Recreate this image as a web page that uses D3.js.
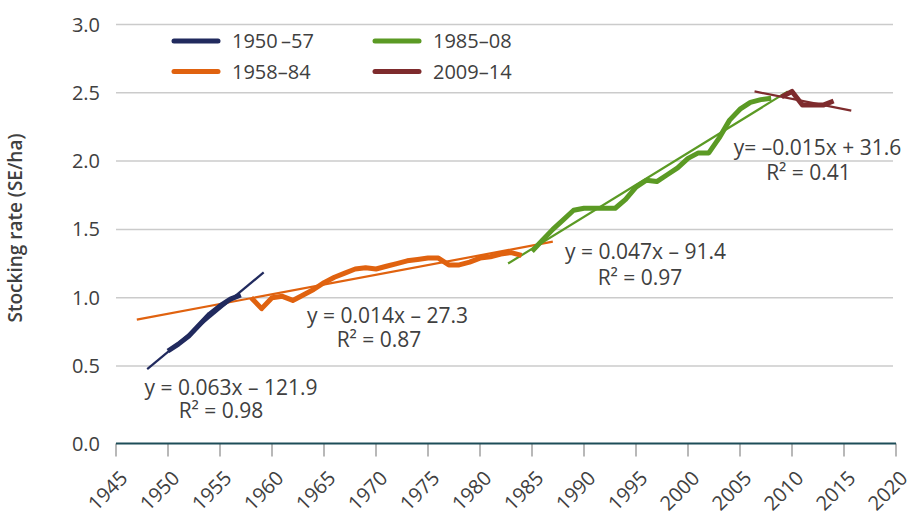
<!DOCTYPE html>
<html>
<head>
<meta charset="utf-8">
<script src="https://cdn.jsdelivr.net/npm/d3@7"></script>
<style>
  body { margin: 0; background: #fff; }
  svg { font-family: "Open Sans", sans-serif; }
</style>
</head>
<body>
<div id="chart"></div>
<script>
// period series (stocking rate, SE/ha)
const years1 = [1950, 1951, 1952, 1953, 1954, 1955, 1956, 1957];
const vals1 = [0.61, 0.66, 0.72, 0.80, 0.88, 0.94, 0.99, 1.02];

const years2 = d3.range(1958, 1985);
const vals2 = [1.00, 0.92, 1.00, 1.01, 0.98, 1.02, 1.06, 1.11, 1.15, 1.18,
               1.21, 1.22, 1.21, 1.23, 1.25, 1.27, 1.28, 1.29, 1.29, 1.24,
               1.24, 1.26, 1.29, 1.30, 1.32, 1.33, 1.31];

const years3 = d3.range(1985, 2009);
const vals3 = [1.34, 1.42, 1.50, 1.57, 1.64, 1.655, 1.655, 1.655, 1.655, 1.72,
               1.81, 1.86, 1.85, 1.90, 1.95, 2.02, 2.06, 2.06, 2.17, 2.30,
               2.38, 2.43, 2.45, 2.46];

const years4 = [2009, 2010, 2011, 2012, 2013, 2014];
const vals4 = [2.47, 2.51, 2.41, 2.41, 2.41, 2.44];

// fitted trend lines, [year, value] endpoints
const trend1 = [[1948, 0.48], [1959.2, 1.185]];
const trend2 = [[1947, 0.84], [1987, 1.41]];
const trend3 = [[1982.7, 1.25], [2009.6, 2.51]];
const trend4 = [[2006.4, 2.51], [2015.7, 2.37]];

const seriesNames = ["1950\u2009\u201357", "1958\u201384", "1985\u201308", "2009\u201314"];
const equations = ["y = 0.063x \u2013 121.9", "y = 0.014x \u2013 27.3", "y = 0.047x \u2013 91.4", "y= \u20130.015x + 31.6"];
const rSquared = ["R\u00b2 = 0.98", "R\u00b2 = 0.87", "R\u00b2 = 0.97", "R\u00b2 = 0.41"];

const yTicks = [0, 0.5, 1, 1.5, 2, 2.5, 3];
const xTicks = d3.range(1945, 2021, 5);

const colors = ["#212a5e", "#e0620f", "#5b9a24", "#7e2b2d"];

const width = 908, height = 515;

const svg = d3.select("#chart").append("svg")
    .attr("width", width)
    .attr("height", height);

const x = d3.scaleLinear().domain([1945, 2020]).range([116, 896]);
// the zero baseline sits a little lower than the even spacing of the other ticks
const y = d3.scaleLinear().domain([0, 0.5, 3]).range([443.5, 366, 24.5]);

// gridlines
svg.append("g")
  .selectAll("line")
  .data(yTicks.filter(d => d > 0))
  .join("line")
    .attr("x1", x(1945))
    .attr("x2", 893)
    .attr("y1", d => y(d))
    .attr("y2", d => y(d))
    .attr("stroke", "#cbcbcb")
    .attr("stroke-width", 1.5);

// y labels
svg.append("g")
    .attr("font-size", 20)
    .attr("fill", "#404040")
    .attr("text-anchor", "end")
  .selectAll("text")
  .data(yTicks)
  .join("text")
    .attr("x", 100)
    .attr("y", d => y(d))
    .attr("dy", "0.35em")
    .text(d => d.toFixed(1));

// y title
svg.append("text")
    .attr("transform", "translate(22,228) rotate(-90)")
    .attr("text-anchor", "middle")
    .attr("font-size", 19)
    .attr("font-weight", 600)
    .attr("fill", "#404040")
    .text("Stocking rate (SE/ha)");

// x axis ticks
svg.append("g")
  .selectAll("line")
  .data(xTicks)
  .join("line")
    .attr("x1", d => x(d))
    .attr("x2", d => x(d))
    .attr("y1", y(0))
    .attr("y2", y(0) + 13)
    .attr("stroke", "#a0a0a0")
    .attr("stroke-width", 1.5);

svg.append("line")
    .attr("x1", x(1945))
    .attr("x2", x(2020))
    .attr("y1", y(0))
    .attr("y2", y(0))
    .attr("stroke", "#1d4d58")
    .attr("stroke-width", 2);

svg.append("g")
    .attr("font-size", 20)
    .attr("fill", "#404040")
    .attr("text-anchor", "end")
  .selectAll("text")
  .data(xTicks)
  .join("text")
    .attr("transform", d => `translate(${x(d) + 8},${y(0) + 31}) rotate(-45)`)
    .attr("dy", "0.35em")
    .text(d => d);

const line = d3.line()
    .x(d => x(d[0]))
    .y(d => y(d[1]));

const series = [
  d3.zip(years1, vals1),
  d3.zip(years2, vals2),
  d3.zip(years3, vals3),
  d3.zip(years4, vals4)
];
const trends = [trend1, trend2, trend3, trend4];

// trend lines
svg.append("g")
    .attr("fill", "none")
    .attr("stroke-width", 2.2)
  .selectAll("path")
  .data(trends)
  .join("path")
    .attr("stroke", (d, i) => colors[i])
    .attr("d", line);

// data lines
svg.append("g")
    .attr("fill", "none")
    .attr("stroke-width", 5)
    .attr("stroke-linejoin", "round")
  .selectAll("path")
  .data(series)
  .join("path")
    .attr("stroke", (d, i) => colors[i])
    .attr("d", line);

// regression labels (pixel centres of equation and R² lines)
const eqPos = [[231, 388, 221, 410.5], [387.5, 315.5, 379, 340], [645.5, 251.5, 640, 278], [817.5, 147.5, 808.5, 173]];
const ann = svg.append("g")
    .attr("font-size", 21)
    .attr("fill", "#404040")
    .attr("text-anchor", "middle");
equations.forEach((t, i) => {
  ann.append("text").attr("x", eqPos[i][0]).attr("y", eqPos[i][1]).attr("dy", "0.35em").text(t);
  ann.append("text").attr("x", eqPos[i][2]).attr("y", eqPos[i][3]).attr("dy", "0.35em").text(rSquared[i]);
});

// legend
const legend = svg.append("g")
  .selectAll("g")
  .data(seriesNames)
  .join("g")
    .attr("transform", (d, i) => `translate(${i < 2 ? 174 : 375},${i % 2 ? 71.5 : 41})`);

legend.append("line")
    .attr("x1", 0)
    .attr("x2", 44)
    .attr("stroke", (d, i) => colors[i])
    .attr("stroke-width", 5)
    .attr("stroke-linecap", "round");

legend.append("text")
    .attr("x", 58)
    .attr("dy", "0.35em")
    .attr("font-size", 20)
    .attr("fill", "#404040")
    .text(d => d);
</script>
</body>
</html>
